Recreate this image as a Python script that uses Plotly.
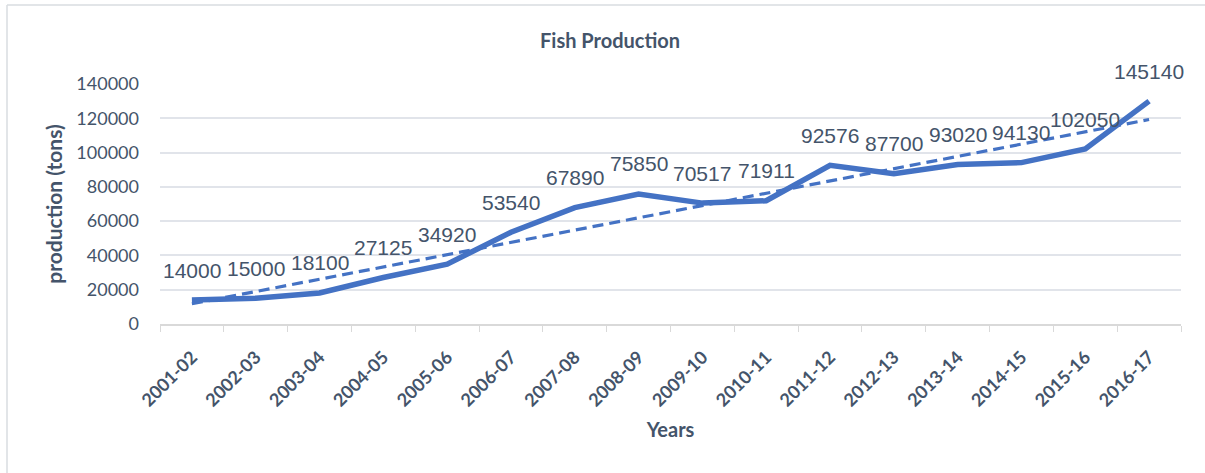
import numpy as np
import plotly.graph_objects as go

years = ["2001-02", "2002-03", "2003-04", "2004-05", "2005-06", "2006-07", "2007-08", "2008-09",
         "2009-10", "2010-11", "2011-12", "2012-13", "2013-14", "2014-15", "2015-16", "2016-17"]
production = [14000, 15000, 18100, 27125, 34920, 53540, 67890, 75850,
              70517, 71911, 92576, 87700, 93020, 94130, 102050, 130000]
label_text = ["14000", "15000", "18100", "27125", "34920", "53540", "67890", "75850",
              "70517", "71911", "92576", "87700", "93020", "94130", "102050", "145140"]
y_ticks = [0, 20000, 40000, 60000, 80000, 100000, 120000, 140000]

TEXT = "#44546A"
BLUE = "#4472C4"
GRID = "#E1E4EA"
BORDER = "#D9DCE1"

idx = np.arange(len(production))
slope, intercept = np.polyfit(idx, production, 1)
trend = slope * idx + intercept

fig = go.Figure()
fig.add_trace(go.Scatter(x=years, y=production, mode="lines",
                         line=dict(color=BLUE, width=5.5), showlegend=False))
fig.add_trace(go.Scatter(x=years, y=trend, mode="lines",
                         line=dict(color=BLUE, width=3.2, dash="11px,6px"), showlegend=False))

annotations = []
for x, y, t in zip(years, production, label_text):
    annotations.append(dict(x=x, y=y, text=t, showarrow=False, yshift=30,
                            font=dict(family="Liberation Sans, Arial", size=21, color=TEXT)))

W, H = 1205, 473
L, R, T, B = 160, 24, 84, 149
pw, ph = W - L - R, H - T - B

annotations.append(dict(text="<b>Fish Production</b>", xref="paper", yref="paper",
                        x=(610 - L) / pw, y=1 + (T - 40) / ph, showarrow=False,
                        xanchor="center", yanchor="middle",
                        font=dict(family="Lato", size=20, color=TEXT)))

bx0 = (7 - L) / pw
by1 = 1 + (T - 5) / ph
fig.update_layout(
    width=W, height=H,
    margin=dict(l=L, r=R, t=T, b=B, pad=0),
    paper_bgcolor="white", plot_bgcolor="white",
    annotations=annotations,
    shapes=[
        dict(type="line", xref="paper", yref="paper", x0=bx0, x1=bx0, y0=-1, y1=by1,
             line=dict(color=BORDER, width=1.5), layer="below"),
        dict(type="line", xref="paper", yref="paper", x0=bx0, x1=1.2, y0=by1, y1=by1,
             line=dict(color=BORDER, width=1.5), layer="below"),
    ],
    xaxis=dict(
        type="category", tickangle=-45, showgrid=False,
        showline=True, linecolor="#D9D9D9", linewidth=1.5,
        ticks="outside", ticklen=6, tickcolor="#D9D9D9", tickson="boundaries",
        ticklabelstandoff=14,
        tickfont=dict(family="Lato", size=18, color=TEXT, weight="bold"),
        title=dict(text="<b>Years</b>", font=dict(family="Lato", size=20, color=TEXT), standoff=13),
        range=[-0.5, len(years) - 0.5],
    ),
    yaxis=dict(
        range=[0, 140000], tickvals=y_ticks, ticktext=[str(v) for v in y_ticks],
        showgrid=True, gridcolor=GRID, gridwidth=1.5, zeroline=False,
        showline=False, ticks="", ticklabelstandoff=20,
        tickfont=dict(family="Lato", size=18, color=TEXT),
        title=dict(text="<b>production (tons)</b>", font=dict(family="Lato", size=21, color=TEXT), standoff=8),
    ),
)

fig.write_html("out.html", config={"displayModeBar": False},
               post_script="document.body.style.margin='0';document.body.style.overflow='hidden';"
                           "document.documentElement.style.overflow='hidden';")
